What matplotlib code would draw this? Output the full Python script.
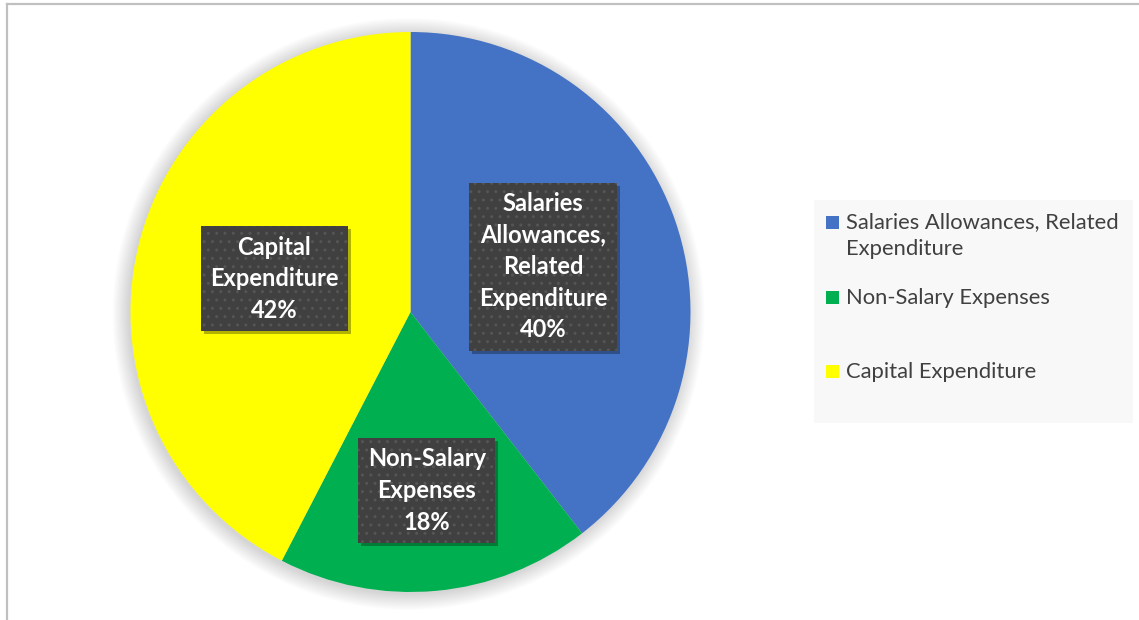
import numpy as np
import matplotlib
matplotlib.use("Agg")
import matplotlib.pyplot as plt
from matplotlib.patches import Circle, Rectangle
from matplotlib.lines import Line2D

# data
categories = ["Salaries Allowances, Related Expenditure", "Non-Salary Expenses", "Capital Expenditure"]
box_labels = ["Salaries\nAllowances,\nRelated\nExpenditure", "Non-Salary\nExpenses", "Capital\nExpenditure"]
legend_labels = ["Salaries Allowances, Related\nExpenditure", "Non-Salary Expenses", "Capital Expenditure"]
shares = [39.5, 18.1, 42.4]
colors = ["#4472c4", "#00b050", "#ffff00"]

plt.rcParams['font.family'] = ['Lato', 'DejaVu Sans']

W, H = 1139, 620
fig = plt.figure(figsize=(W / 100, H / 100), dpi=100)
ax = fig.add_axes([0, 0, 1, 1])

cx, cy, R = 410.5, H - 312, 280

# soft shadow around the pie
for i in range(14):
    ax.add_patch(Circle((cx - 2, cy - 2), R + 16 - i * 1.2, color='#000000', alpha=0.012, lw=0, zorder=1))

wedges, _ = ax.pie(shares, colors=colors, startangle=90, counterclock=False,
                   center=(cx, cy), radius=R, frame=True,
                   wedgeprops=dict(linewidth=0, zorder=2))
ax.set_xlim(0, W)
ax.set_ylim(0, H)
ax.set_aspect('equal')
ax.axis('off')

# data labels in dark boxes
dist = [0.5, 0.64, 0.5]
labels = []
for w, lab, s, d in zip(wedges, box_labels, shares, dist):
    mid = np.radians((w.theta1 + w.theta2) / 2)
    x = cx + d * R * np.cos(mid)
    y = cy + d * R * np.sin(mid)
    t = ax.text(x, y, f"{lab}\n{round(s)}%", color='white', zorder=5,
                ha='center', va='center', fontsize=17, fontweight='bold', linespacing=1.45,
                bbox=dict(boxstyle='square,pad=0.4', facecolor='#404040',
                          edgecolor='#555555', linewidth=0, hatch='..'))
    labels.append(t)

# drop shadow behind each label box
fig.canvas.draw()
for t in labels:
    bb = t.get_bbox_patch().get_window_extent()
    ax.add_patch(Rectangle((bb.x0 + 3, bb.y0 - 3), bb.width, bb.height, transform=None,
                           facecolor='#000000', alpha=0.3, linewidth=0, zorder=4))

# legend
ax.add_patch(Rectangle((814, H - 423), 319, 223, facecolor='#f8f8f8', edgecolor='none', zorder=3))
leg_y = [222, 297, 371]
for lab, c, y in zip(legend_labels, colors, leg_y):
    ax.add_patch(Rectangle((826, H - y - 6.5), 13, 13, facecolor=c, edgecolor='none', zorder=4))
    ax.text(846, H - y + 9.5, lab, ha='left', va='top', fontsize=15.8, color='#404040',
            linespacing=1.42, zorder=4)

# chart border
fig.add_artist(Line2D([7 / W, 1], [1 - 3.5 / H, 1 - 3.5 / H], color='#c0c0c0', lw=1.6))
fig.add_artist(Line2D([7 / W, 7 / W], [0, 1 - 3.5 / H], color='#c0c0c0', lw=1.6))

fig.savefig("out.png", dpi=100, facecolor='white')
